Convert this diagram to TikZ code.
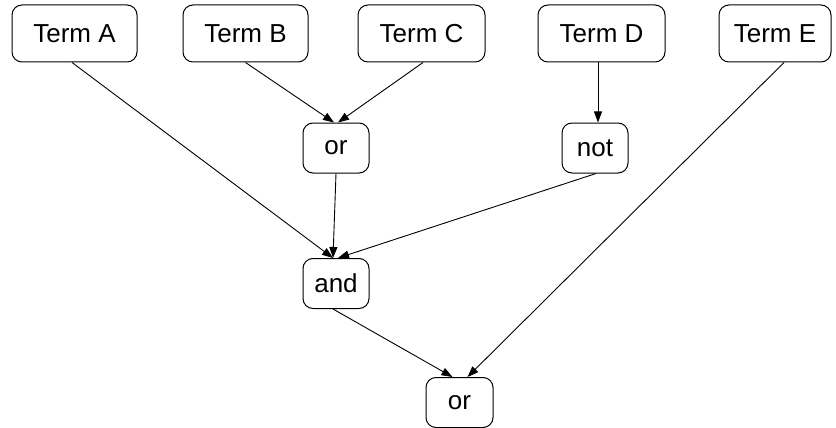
\documentclass[tikz,border=0pt]{standalone}
\usepackage{fontspec}
\setmainfont{Liberation Sans}
\usetikzlibrary{arrows.meta}
\begin{document}
\begin{tikzpicture}[x=1pt,y=-1pt,
  box/.style={draw, line width=1pt, rounded corners=10pt, inner sep=0pt,
    font=\fontsize{26}{30}\selectfont},
  term/.style={box, minimum height=57pt, text depth=0pt},
  op/.style={box, minimum width=66pt, minimum height=50pt},
  edge/.style={line width=0.9pt, -{Triangle[length=11pt,width=8pt]}}]
\useasboundingbox (0,0) rectangle (836,428);
\node[term, minimum width=125pt] (A) at (74.5,33.5) {Term A};
\node[term, minimum width=125pt] (B) at (245.5,33.5) {Term B};
\node[term, minimum width=127pt] (C) at (421.5,33.5) {Term C};
\node[term, minimum width=127pt] (D) at (601.5,33.5) {Term D};
\node[term, minimum width=112pt] (E) at (775,33.5) {Term E};
\node[op] (or1) at (336,148) {or};
\node[op] (not) at (595,148) {not};
\node[op] (and) at (336,283.5) {and};
\node[op, minimum width=67pt] (or2) at (459.5,402.5) {or};
\draw[edge] ([xshift=-2.5pt]A.south) -- ([xshift=-3pt]and.north);
\draw[edge] (B.south) -- ([xshift=-2pt]or1.north);
\draw[edge] ([xshift=1.5pt]C.south) -- ([xshift=2pt]or1.north);
\draw[edge] ([xshift=3pt]not.north |- D.south) -- ([xshift=3pt]not.north);
\draw[edge] (or1.south) -- ([xshift=-3pt]and.north);
\draw[edge] ([xshift=1pt]not.south) -- ([xshift=2pt]and.north);
\draw[edge] ([xshift=9pt]E.south) -- ([xshift=8pt]or2.north);
\draw[edge] ([xshift=-3pt]and.south) -- ([xshift=-7pt]or2.north);
\end{tikzpicture}
\end{document}
